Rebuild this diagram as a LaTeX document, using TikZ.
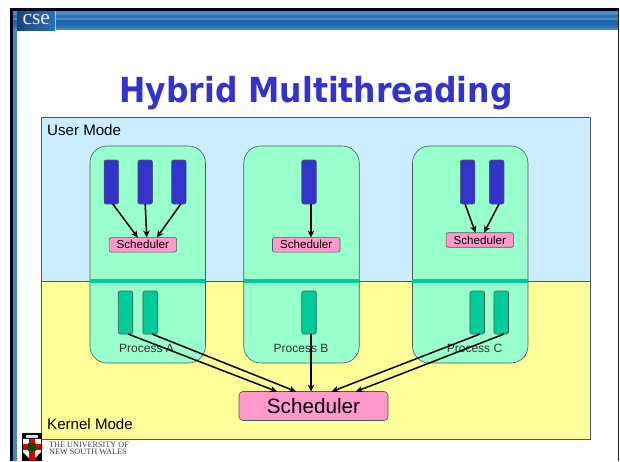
\documentclass[tikz,border=0pt]{standalone}
\usepackage{fontspec}
\setmainfont{Liberation Sans}
\newfontfamily\titlefont{DejaVu Sans}
\newfontfamily\unifont{Liberation Serif}
\definecolor{userblue}{HTML}{CCECFF}
\definecolor{kernyellow}{HTML}{FFFF99}
\definecolor{procgreen}{HTML}{99FFCC}
\definecolor{kteal}{HTML}{00CC99}
\definecolor{uthread}{HTML}{3333CC}
\definecolor{schedpink}{HTML}{FF99CC}
\definecolor{edge}{HTML}{4A5A5A}
\definecolor{hdrA}{HTML}{4F8AC8}
\definecolor{hdrB}{HTML}{2C70B6}
\definecolor{hdrC}{HTML}{1F66AE}
\definecolor{hdrD}{HTML}{4A86C5}
\definecolor{cseA}{HTML}{1B4577}
\tikzset{
  x=1pt,y=-1pt,
  box/.style={draw=edge,line width=0.6pt,inner sep=0pt,outer sep=0pt},
  zone/.style={box,minimum width=549pt},
  procbox/.style={box,fill=procgreen,rounded corners=17pt,minimum width=115.5pt,minimum height=217pt},
  ubar/.style={box,fill=uthread,rounded corners=2pt,minimum width=14.5pt,minimum height=44pt},
  kbar/.style={box,fill=kteal,rounded corners=2pt,minimum width=14.5pt,minimum height=43pt},
  smallsched/.style={box,fill=schedpink,rounded corners=2pt,minimum width=67.5pt,minimum height=14.5pt,font=\fontsize{11.6}{13}\selectfont},
  bigsched/.style={box,fill=schedpink,rounded corners=4pt,minimum width=149pt,minimum height=29pt,font=\fontsize{20.7}{24}\selectfont},
  band/.style={fill=kteal,inner sep=0pt,outer sep=0pt,minimum width=115.5pt,minimum height=3.6pt},
  proclabel/.style={inner sep=0pt,font=\fontsize{12}{14}\selectfont,text=black!80},
  modelabel/.style={inner sep=0pt,anchor=base west,font=\fontsize{15.1}{17}\selectfont},
  link/.style={draw=black,line width=1.5pt,-{Stealth[length=7pt,width=6.5pt]}},
}
\usetikzlibrary{arrows.meta}
\begin{document}
\begin{tikzpicture}
\useasboundingbox (0,0) rectangle (620,461);
% slide frame
\fill[white] (0,0) rectangle (620,461);
\fill[black!90!blue] (10,8) rectangle (619,461);
\fill[hdrD] (13,11) rectangle (17,461);
\fill[white] (17,30) rectangle (618,461);
\fill[black!85] (618,11) rectangle (619,461);
% header stripes
\fill[hdrA] (13,11) rectangle (618,15);
\fill[hdrB] (13,15) rectangle (618,18);
\fill[hdrA] (13,18) rectangle (618,20);
\fill[hdrC] (13,20) rectangle (618,25);
\fill[hdrB] (13,25) rectangle (618,28);
\fill[hdrD] (13,28) rectangle (618,30);
\shade[left color=cseA,right color=hdrB] (17,11) rectangle (55,30);
\draw[white!60!hdrB,line width=0.5pt] (55.5,11) -- (55.5,30);
\node[inner sep=0pt,anchor=base,text=white!92!blue,font=\unifont\fontsize{21.5}{22}\selectfont] (cselabel) at (36.3,24.5) {cse};
% title
\node[inner sep=0pt,anchor=base,text=uthread,font=\titlefont\bfseries\fontsize{34.5}{38}\selectfont] (title) at (316,102.5) {\scalebox{0.912}[1]{Hybrid Multithreading}};
% mode zones
\node[zone,fill=userblue,minimum height=163.5pt] (userzone) at (316,199.2) {};
\node[zone,fill=kernyellow,minimum height=158pt] (kernzone) at (316,360) {};
\node[modelabel] (userlabel) at (47,135.5) {User Mode};
\node[modelabel] (kernlabel) at (47,429.5) {Kernel Mode};
% processes
\node[procbox] (procA) at (147.7,254.5) {};
\node[procbox] (procB) at (301.5,254.5) {};
\node[procbox] (procC) at (470.2,254.5) {};
\node[band] (bandA) at (147.7,281) {};
\node[band] (bandB) at (301.5,281) {};
\node[band] (bandC) at (470.2,281) {};
\node[proclabel] (labA) at (146.5,348) {Process A};
\node[proclabel] (labB) at (301,348) {Process B};
\node[proclabel] (labC) at (474.5,348) {Process C};
% user threads
\node[ubar] (ua1) at (111.3,182) {};
\node[ubar] (ua2) at (145.2,182) {};
\node[ubar] (ua3) at (178.8,182) {};
\node[ubar] (ub1) at (309,182) {};
\node[ubar] (uc1) at (467.6,182) {};
\node[ubar] (uc2) at (496.7,182) {};
% user schedulers
\node[smallsched] (sa) at (142.8,244.8) {Scheduler};
\node[smallsched] (sb) at (306.2,244.8) {Scheduler};
\node[smallsched] (sc) at (479.8,240) {Scheduler};
% kernel threads
\node[kbar] (ka1) at (125.5,312.5) {};
\node[kbar] (ka2) at (150.2,312.5) {};
\node[kbar] (kb1) at (309,312.5) {};
\node[kbar] (kc1) at (477.2,312.5) {};
\node[kbar] (kc2) at (501.2,312.5) {};
% kernel scheduler
\node[bigsched] (ksched) at (313.5,406) {Scheduler};
% connectors
\draw[link] ([xshift=1.5pt]ua1.south) -- ([xshift=-5pt]sa.north);
\draw[link] (ua2.south) -- ([xshift=4pt]sa.north);
\draw[link] ([xshift=2pt]ua3.south) -- ([xshift=14pt]sa.north);
\draw[link] ([xshift=2pt]ub1.south) -- ([xshift=4.8pt]sb.north);
\draw[link] ([xshift=-2.5pt]uc1.south) -- ([xshift=-4.3pt]sc.north);
\draw[link] ([xshift=2.3pt]uc2.south) -- ([xshift=4.2pt]sc.north);
\draw[link] ([xshift=2.5pt]ka1.south) -- ([xshift=-36.5pt]ksched.north);
\draw[link] ([xshift=1.8pt]ka2.south) -- ([xshift=-17.5pt]ksched.north);
\draw[link] ([xshift=2pt]kb1.south) -- ([xshift=-2.5pt]ksched.north);
\draw[link] ([xshift=2.8pt]kc1.south) -- ([xshift=18.2pt]ksched.north);
\draw[link] ([xshift=2.8pt]kc2.south) -- ([xshift=42.5pt]ksched.north);
% university crest
\fill[black] (22,433) rectangle (42,461);
\fill[white] (23,439) -- (41,439) -- (41,452) -- (32,461) -- (23,452) -- cycle;
\fill[red!85!black] (29,439) rectangle (35,461);
\fill[red!85!black] (23,444) rectangle (41,450);
\fill[black!70!green] (28,443) rectangle (36,451);
\fill[white!85!black] (26,434.5) rectangle (38,437.5);
% university name
\node[inner sep=0pt,anchor=base west,text=black!75,font=\unifont\fontsize{8.2}{9}\selectfont] (uni1) at (49,447) {THE UNIVERSITY OF};
\node[inner sep=0pt,anchor=base west,text=black!75,font=\unifont\fontsize{8.2}{9}\selectfont] (uni2) at (49,454.5) {NEW SOUTH WALES};
\end{tikzpicture}
\end{document}
